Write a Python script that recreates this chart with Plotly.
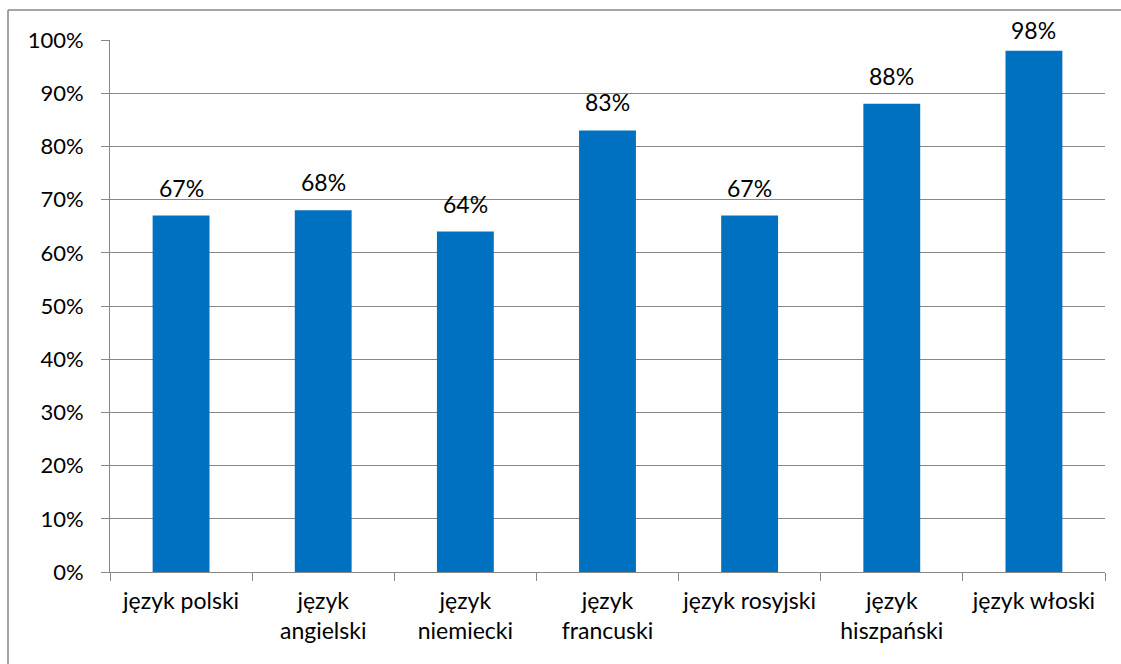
import plotly.graph_objects as go

categories = ["język polski", "język<br>angielski", "język<br>niemiecki", "język<br>francuski",
              "język rosyjski", "język<br>hiszpański", "język włoski"]
values = [0.67, 0.68, 0.64, 0.83, 0.67, 0.88, 0.98]
labels = ["67%", "68%", "64%", "83%", "67%", "88%", "98%"]

FONT = "Lato"
GRID = "#878787"
TOP, BOTTOM = 40, 572  # plot area edges in pixels

fig = go.Figure()
fig.add_trace(go.Bar(
    x=categories, y=values,
    marker=dict(color="#0070C0", line=dict(width=0)),
    hoverinfo="x+y",
))

# data labels above bars; like Excel, keep labels inside the chart area near the top
for c, v, t in zip(categories, values, labels):
    bar_top_px = TOP + (1 - v) * (BOTTOM - TOP)
    shift = min(12, bar_top_px - 31 - 14.6)
    fig.add_annotation(x=c, y=v, text=t, showarrow=False, xref="x", yref="y",
                       yanchor="bottom", yshift=shift,
                       font=dict(family=FONT, size=23, color="black"))

fig.update_layout(
    width=1121, height=664,
    margin=dict(l=110, r=16, t=TOP, b=664 - BOTTOM, autoexpand=False),
    paper_bgcolor="white", plot_bgcolor="white",
    bargap=0.6, showlegend=False,
    font=dict(family=FONT, size=22, color="black"),
)
fig.update_yaxes(range=[0, 1], dtick=0.1, tickformat=".0%",
                 tickfont=dict(size=22), automargin=False,
                 showgrid=True, gridcolor=GRID, gridwidth=1,
                 showline=True, linecolor=GRID, linewidth=1,
                 ticks="outside", ticklen=8, tickcolor=GRID,
                 ticklabelstandoff=13, zeroline=False)
fig.update_xaxes(showline=True, linecolor=GRID, linewidth=1,
                 ticks="outside", ticklen=8, tickcolor=GRID,
                 tickfont=dict(size=23), tickangle=0, automargin=False,
                 ticklabelstandoff=8,
                 tickson="boundaries", showgrid=False)

fig.add_shape(type="line", xref="paper", yref="paper",
              x0=(8 - 110) / 995, x1=1.02, y0=(572 - 10) / 532, y1=(572 - 10) / 532,
              line=dict(color=GRID, width=1.5))
fig.add_shape(type="line", xref="paper", yref="paper",
              x0=(8 - 110) / 995, x1=(8 - 110) / 995, y0=(572 - 10) / 532, y1=-0.2,
              line=dict(color=GRID, width=1.5))

fig.write_html("out.html", config={"displayModeBar": False},
               post_script="document.body.style.margin='0';document.body.style.padding='0';document.body.style.overflow='hidden';")
